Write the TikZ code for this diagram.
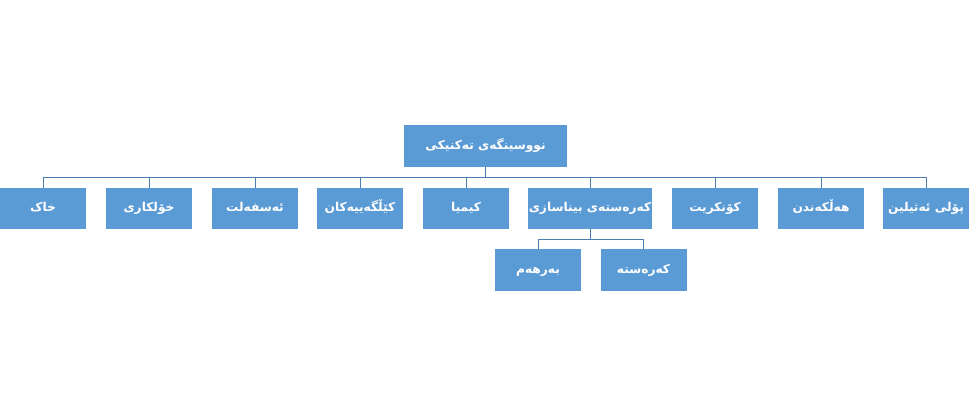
\documentclass[tikz,border=0pt]{standalone}
\usepackage{fontspec}
\newfontfamily\arabicfont[Script=Arabic]{DejaVu Sans}
\TeXXeTstate=1
\definecolor{boxblue}{HTML}{5B9BD5}
\definecolor{linecol}{HTML}{4A7EB0}
\tikzset{
  box/.style={rectangle, fill=boxblue, text=white, inner sep=0pt,
    minimum width=86pt, minimum height=41pt, text height=9pt, text depth=3pt,
    font=\arabicfont\bfseries\fontsize{12.2}{15}\selectfont},
  conn/.style={draw=linecol, line width=1pt}
}
\newcommand{\rl}[1]{\beginR #1\endR}
\begin{document}
\begin{tikzpicture}[x=1pt,y=-1pt]
\useasboundingbox (0,0) rectangle (969,405);
\node[box, minimum width=163pt, minimum height=42pt] (root) at (485.5,146) {\rl{نووسینگەی تەکنیکی}};
\node[box] (c1) at (43,208.5) {\rl{خاک}};
\node[box] (c2) at (149,208.5) {\rl{خۆلکاری}};
\node[box] (c3) at (255,208.5) {\rl{ئەسفەلت}};
\node[box] (c4) at (360,208.5) {\rl{کێڵگەییەکان}};
\node[box] (c5) at (466,208.5) {\rl{کیمیا}};
\node[box, minimum width=124pt] (c6) at (590,208.5) {\rl{کەرەستەی بیناسازی}};
\node[box] (c7) at (715,208.5) {\rl{کۆنکریت}};
\node[box] (c8) at (821,208.5) {\rl{هەڵکەندن}};
\node[box] (c9) at (926,208.5) {\rl{پۆلی ئەثیلین}};
\node[box, minimum height=42pt] (s1) at (538,270) {\rl{بەرهەم}};
\node[box, minimum height=42pt] (s2) at (643.5,270) {\rl{کەرەستە}};
\coordinate (bus) at (485.5,177);
\coordinate (sbus) at (590,239);
\draw[conn] (root.south) -- (bus);
\foreach \c in {c1,c2,c3,c4,c5,c6,c7,c8,c9}{
  \draw[conn] (bus) -| (\c.north);
}
\draw[conn] (c6.south) -- (sbus);
\draw[conn] (sbus) -| (s1.north);
\draw[conn] (sbus) -| (s2.north);
\end{tikzpicture}
\end{document}
